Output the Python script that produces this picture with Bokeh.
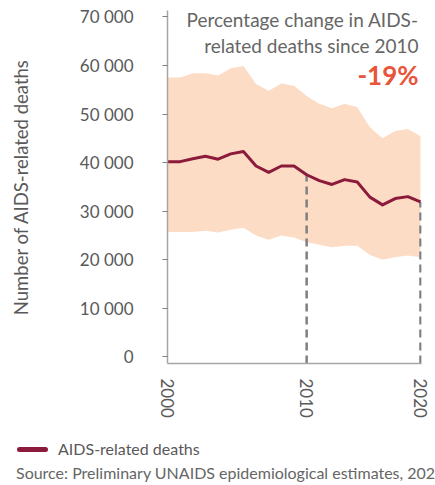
from bokeh.plotting import figure
from bokeh.layouts import column
from bokeh.models import (Range1d, FixedTicker, Label, Div, CustomJSTickFormatter)
from bokeh.embed import file_html
from bokeh.resources import INLINE

# ---- data ----
years = list(range(2000, 2021))
deaths = [40200, 40200, 40800, 41300, 40700, 41800, 42300, 39300, 38000, 39300,
          39300, 37500, 36300, 35500, 36500, 36000, 32900, 31300, 32600, 33000, 31900]
upper = [57500, 57500, 58400, 58400, 57900, 59400, 59900, 56200, 54800, 56300,
         55800, 53700, 52100, 51200, 52100, 51400, 47300, 45000, 46500, 46900, 45400]
lower = [25700, 25700, 25700, 26000, 25600, 26200, 26600, 25000, 24100, 25000,
         24600, 23600, 23100, 22600, 22900, 22900, 21000, 20000, 20500, 20900, 20500]
tick_index = [0, 11, 20]
tick_labels = ["2000", "2010", "2020"]
marker_index = [11, 20]
y_ticks = [0, 10000, 20000, 30000, 40000, 50000, 60000, 70000]
change_text = "-19%"
series_name = "AIDS-related deaths"
source_text = "Source: Preliminary UNAIDS epidemiological estimates, 2021."

FONT = "Lato"
GREY = "#595959"
LINE_COLOR = "#8C1A3B"

idx = list(range(len(years)))
y_start = -1340

p = figure(width=435, height=430, output_backend="svg", toolbar_location=None,
           x_range=Range1d(0, 20.08), y_range=Range1d(y_start, 71300),
           min_border_left=167, min_border_top=10, min_border_right=14,
           min_border_bottom=67)
p.outline_line_color = None
p.grid.visible = False
p.background_fill_color = "white"

# band
p.varea(x=idx, y1=lower, y2=upper, fill_color="#FDDCC6", fill_alpha=1.0)

# dashed markers
p.segment(x0=marker_index, x1=marker_index, y0=[y_start] * len(marker_index),
          y1=[deaths[i] for i in marker_index], line_color="#7f7f7f",
          line_width=2.5, line_dash="8 5")

# main line
r = p.line(idx, deaths, line_color=LINE_COLOR, line_width=3, line_join="round")

# axes
ya = p.yaxis[0]
ya.ticker = FixedTicker(ticks=y_ticks)
ya.formatter = CustomJSTickFormatter(code="return tick == 0 ? '0' : (tick/1000).toFixed(0) + ' 000';")
ya.major_tick_out = 5
ya.major_tick_in = 0
ya.minor_tick_line_color = None
ya.axis_line_color = "#a6a6a6"
ya.axis_line_width = 1.5
ya.major_tick_line_color = "#7f7f7f"
ya.major_label_text_font = FONT
ya.major_label_text_font_size = "17px"
ya.major_label_text_color = GREY
ya.major_label_standoff = 29
ya.axis_label = "Number of AIDS-related deaths"
ya.axis_label_text_font = FONT
ya.axis_label_text_font_size = "18.5px"
ya.axis_label_text_font_style = "normal"
ya.axis_label_text_color = GREY
ya.axis_label_standoff = 45

xa = p.xaxis[0]
xa.ticker = FixedTicker(ticks=tick_index)
xa.major_label_overrides = {i: t for i, t in zip(tick_index, tick_labels)}
xa.major_label_orientation = "vertical"
xa.major_tick_out = 0
xa.major_tick_in = 0
xa.minor_tick_line_color = None
xa.axis_line_color = "#a6a6a6"
xa.axis_line_width = 1.5
xa.major_label_text_font = FONT
xa.major_label_text_font_size = "17px"
xa.major_label_text_color = GREY
xa.major_label_standoff = 15

# annotation text
for txt, yy in [("Percentage change in AIDS-", 69500), ("related deaths since 2010", 64100)]:
    p.add_layout(Label(x=19.85, y=yy, text=txt, text_align="right", text_baseline="middle",
                       text_font=FONT, text_font_size="19px", text_color="#666666"))
p.add_layout(Label(x=19.85, y=58000, text=change_text, text_align="right", text_baseline="middle",
                   text_font=FONT, text_font_size="26px", text_font_style="bold",
                   text_color="#E9553A"))

# ---- footer: legend key + source ----
footer_html = f"""
<div style="position:relative;width:435px;height:55px;overflow:hidden;font-family:Lato;">
  <span style="position:absolute;left:17px;top:17px;width:31px;height:5px;background:{LINE_COLOR};border-radius:3px;"></span>
  <span style="position:absolute;left:58px;top:9px;font-size:16px;line-height:20px;color:{GREY};white-space:nowrap;">{series_name}</span>
  <span style="position:absolute;left:16px;top:34px;font-size:16px;line-height:18px;color:#666666;white-space:nowrap;">{source_text}</span>
</div>
"""
footer = Div(text=footer_html, width=435, height=55, margin=(0, 0, 0, 0))

open("out.html", "w").write(file_html(column(p, footer, spacing=0), INLINE))
